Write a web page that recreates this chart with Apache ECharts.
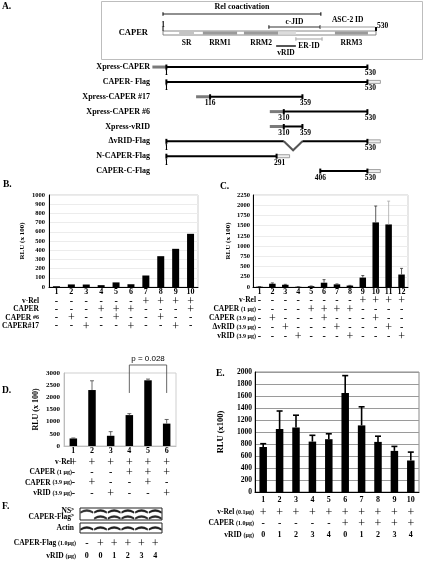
<!DOCTYPE html>
<html><head><meta charset="utf-8">
<script src="https://cdn.jsdelivr.net/npm/echarts@6/dist/echarts.min.js"></script>
<style>html,body{margin:0;padding:0;background:#fff}#c{width:424px;height:571px}</style>
</head><body><div id="c"></div>
<script>
// ---------------- DATA ----------------
// Panel A : CAPER protein map (amino-acid positions)
const caperLength = [1, 530];
const domainNames = ['SR', 'RRM1', 'RRM2', '', 'RRM3'];
const domainStart = [41, 100, 202, 287, 428];
const domainEnd   = [78, 185, 287, 331, 510];
const regionNames = ['Rel coactivation', 'c-JID', 'ASC-2 ID', 'ER-ID', 'vRID'];
const regionStart = [1, 264, 391, 331, 282];
const regionEnd   = [393, 391, 528, 396, 331];
const constructNames = ['Xpress-CAPER', 'CAPER- Flag', 'Xpress-CAPER #17', 'Xpress-CAPER #6', 'Xpress-vRID', 'ΔvRID-Flag', 'N-CAPER-Flag', 'CAPER-C-Flag'];
const constructStart = [1, 1, 116, 310, 310, 1, 1, 406];
const constructEnd   = [530, 530, 359, 530, 359, 530, 291, 530];
const constructTag   = ['xpress', 'flag', 'xpress', 'xpress', 'xpress', 'flag', 'flag', 'flag'];
const constructDeletion = [null, null, null, null, null, [310, 359], null, null];

// Panel B
const bCats = ['1','2','3','4','5','6','7','8','9','10'];
const bValues = [8, 28, 27, 20, 50, 30, 125, 335, 415, 578];
const bRows = ['v-Rel', 'CAPER', 'CAPER {s|#6}', 'CAPER#17'];
const bSigns = [
  ['-','-','-','-','-','-','+','+','+','+'],
  ['-','-','-','+','+','+','-','-','-','+'],
  ['-','+','-','-','+','-','-','+','-','-'],
  ['-','-','+','-','-','+','-','-','+','-']];

// Panel C
const cCats = ['1','2','3','4','5','6','7','8','9','10','11','12'];
const cValues = [8, 80, 55, 5, 20, 105, 65, 35, 230, 1580, 1530, 305];
const cErrors = [3, 20, 10, 2, 5, 75, 10, 5, 50, 400, 570, 150];
const cRows = ['v-Rel', 'CAPER {s|(1 μg)}', 'CAPER {s|(3.9 μg)}', 'ΔvRID {s|(3.9 μg)}', 'vRID {s|(3.9 μg)}'];
const cSigns = [
  ['-','-','-','-','-','-','-','-','+','+','+','+'],
  ['-','-','-','-','+','+','+','+','-','-','-','-'],
  ['-','+','-','-','-','+','-','-','-','+','-','-'],
  ['-','-','+','-','-','-','+','-','-','-','+','-'],
  ['-','-','-','+','-','-','-','+','-','-','-','+']];

// Panel D
const dCats = ['1','2','3','4','5','6'];
const dValues = [310, 2300, 420, 1270, 2700, 920];
const dErrors = [20, 380, 170, 60, 50, 170];
const dRows = ['v-Rel', 'CAPER {s|(1 μg)}', 'CAPER {s|(3.9 μg)}', 'vRID {s|(3.9 μg)}'];
const dSigns = [
  ['+','+','+','+','+','+'],
  ['-','-','-','+','+','+'],
  ['-','+','-','-','+','-'],
  ['-','-','+','-','-','+']];
const dCompare = ['4', '6'];
const dPText = 'p = 0.028';

// Panel E
const eCats = ['1','2','3','4','5','6','7','8','9','10'];
const eValues = [750, 1050, 1075, 840, 880, 1650, 1110, 835, 685, 525];
const eErrors = [55, 300, 205, 105, 90, 290, 310, 95, 75, 140];
const eRows = ['v-Rel {s|(0.1μg)}', 'CAPER {s|(1.0μg)}', 'vRID {s|(μg)}'];
const eSigns = [
  ['+','+','+','+','+','+','+','+','+','+'],
  ['-','-','-','-','-','+','+','+','+','+'],
  ['0','1','2','3','4','0','1','2','3','4']];

// Panel F (western blot)
const fLanes = ['1','2','3','4','5','6'];
const fBlot1Rows = ['NS', 'CAPER-Flag'];
const fNSBand    = [0.8, 0.9, 0.9, 0.9, 0.9, 0.9];
const fFlagBand  = [0, 0.85, 0.85, 0.85, 0.85, 0.85];
const fActinBand = [0.9, 0.9, 0.9, 0.9, 0.9, 0.9];
const fRows = ['CAPER-Flag {s|(1.0μg)}', 'vRID {s|(μg)}'];
const fSigns = [
  ['-','+','+','+','+','+'],
  ['0','0','1','2','3','4']];

// ---------------- BUILD ----------------
const SERIF = '"Liberation Serif","DejaVu Serif",serif';
const SANS = '"Liberation Sans","DejaVu Sans",sans-serif';
const option = {animation:false, backgroundColor:'#fff', grid:[], xAxis:[], yAxis:[], series:[], graphic:[]};
function addGrid(g){ g.outerBoundsMode='none'; g.containLabel=false; option.grid.push(g); return option.grid.length-1; }
function addX(a){ a.nameMoveOverlap=false; option.xAxis.push(a); return option.xAxis.length-1; }
function addY(a){ a.nameMoveOverlap=false; option.yAxis.push(a); return option.yAxis.length-1; }
function font(sz, w){ return (w||'bold')+' '+sz+'px '+SERIF; }

// Sign / row-label table drawn under a grid, columns aligned to the category axis
function tableSeries(xi, yi, rows, signs, o){
  const items = [];
  signs.forEach((row, r)=>row.forEach((v, c)=>items.push({c:c, r:r, v:v})));
  rows.forEach((n, r)=>items.push({c:-1, r:r, v:n}));
  option.series.push({type:'custom', xAxisIndex:xi, yAxisIndex:yi, silent:true, clip:false, z:6,
    data:items.map(it=>[Math.max(it.c,0), it.r]), encode:{x:0},
    renderItem:(params, api)=>{
      const it = items[params.dataIndex];
      const y = o.base + o.offset0 + it.r*o.step;
      if(it.c < 0){
        const x0 = api.coord([0, o.yRef])[0] - api.size([1, 0])[0]/2 - o.nameGap;
        return {type:'text', x:x0, y:y, style:{text:it.v, font:font(o.nameSize), fill:'#000', align:'right', verticalAlign:'middle',
          rich:{s:{font:font(o.nameSize-1.5), fill:'#000', verticalAlign:'middle'}}}};
      }
      const x = api.coord([it.c, o.yRef])[0];
      let f, dy = 0;
      if(it.v === '+'){ f = 'normal 12px '+SERIF; dy = 0.5; }
      else if(it.v === '-'){ f = 'bold 10px '+SERIF; }
      else { f = font(8); }
      return {type:'text', x:x, y:y+dy, style:{text:it.v, font:f, fill:'#000', align:'center', verticalAlign:'middle'}};
    }});
}

function barPanel(p){
  const gi = addGrid({left:p.left, top:p.top, width:p.width, height:p.height, show:true, borderColor:p.border, borderWidth:1});
  const xi = addX({gridIndex:gi, type:'category', data:p.cats, position:'bottom',
    axisLine:{show:true, onZero:false, lineStyle:{color:p.axisColor, width:1}}, axisTick:{show:false},
    axisLabel:{interval:0, margin:p.catMargin, verticalAlign:'middle', fontFamily:SERIF, fontWeight:'bold', fontSize:p.catSize, color:'#000'}});
  const yi = addY({gridIndex:gi, type:'value', min:0, max:p.max, interval:p.interval,
    axisLine:{show:true, lineStyle:{color:p.axisColor, width:1}}, axisTick:{show:false},
    axisLabel:{margin:p.tickMargin, formatter:(v)=>String(v), fontFamily:SERIF, fontWeight:'bold', fontSize:p.tickSize, color:'#000'},
    splitLine:{show:!!p.split, lineStyle:{color:p.split||'#ddd', width:1}},
    name:p.yName, nameLocation:'middle', nameGap:p.yNameGap,
    nameTextStyle:{fontFamily:SERIF, fontWeight:'bold', fontSize:p.yNameSize, color:'#000'}});
  option.series.push({type:'bar', xAxisIndex:xi, yAxisIndex:yi, data:p.values, barWidth:p.barWidth,
    itemStyle:{color:'#000'}, silent:true, z:2});
  if(p.errors){
    option.series.push({type:'custom', xAxisIndex:xi, yAxisIndex:yi, z:3, silent:true,
      data:p.values.map((v,i)=>[i, v, p.errors[i]]), encode:{x:0, y:1},
      renderItem:(params, api)=>{
        const i = api.value(0);
        const b = api.coord([i, api.value(1)]);
        const t = api.coord([i, api.value(1)+api.value(2)]);
        const col = (p.errColors && p.errColors[i]) || p.errColor;
        const st = {stroke:col, lineWidth:p.errWidth};
        return {type:'group', children:[
          {type:'line', shape:{x1:b[0], y1:b[1], x2:b[0], y2:t[1]}, style:st},
          {type:'line', shape:{x1:b[0]-p.cap/2, y1:t[1], x2:b[0]+p.cap/2, y2:t[1]}, style:st}]};
      }});
  }
  tableSeries(xi, yi, p.rows, p.signs, {base:p.top+p.height, offset0:p.rowOffset0, step:p.rowStep, nameGap:p.rowNameGap, nameSize:p.rowSize, yRef:0});
  return {gi, xi, yi};
}

// ---- Panel A: box map ----
const gA0 = addGrid({left:163, top:0, width:213, height:60});
const xA0 = addX({gridIndex:gA0, type:'value', min:1, max:530, show:false});
const yA0 = addY({gridIndex:gA0, type:'value', min:0, max:60, inverse:true, show:false});
const BAR_Y = 33;
option.series.push({type:'custom', xAxisIndex:xA0, yAxisIndex:yA0, silent:true, z:2,
  data:[[caperLength[0], caperLength[1]]], encode:{x:[0,1]},
  renderItem:(params, api)=>{
    const a = api.coord([api.value(0), BAR_Y]), b = api.coord([api.value(1), BAR_Y]);
    return {type:'group', children:[
      {type:'rect', shape:{x:a[0], y:a[1]-2, width:b[0]-a[0], height:4}, style:{fill:'#fff', stroke:'#6a6a6a', lineWidth:0.8}},
      {type:'line', shape:{x1:a[0], y1:a[1]-6, x2:a[0], y2:a[1]-2}, style:{stroke:'#000', lineWidth:1}},
      {type:'rect', shape:{x:b[0]-1, y:b[1]-6, width:2, height:4}, style:{fill:'#000'}},
      {type:'text', x:a[0], y:a[1]-8, style:{text:String(caperLength[0]), font:font(7.5), fill:'#000', align:'center', verticalAlign:'middle'}},
      {type:'text', x:b[0]+1, y:b[1]-7, style:{text:String(caperLength[1]), font:font(7.5), fill:'#000', align:'left', verticalAlign:'middle'}}
    ]};
  }});
const domainFill = {'SR':'#c4c4c4', 'RRM1':'#9a9a9a', 'RRM2':'#9a9a9a', '':'#dcdcdc', 'RRM3':'#9a9a9a'};
option.series.push({type:'custom', xAxisIndex:xA0, yAxisIndex:yA0, silent:true, z:3,
  data:domainNames.map((n,i)=>[domainStart[i], domainEnd[i], i]), encode:{x:[0,1]},
  renderItem:(params, api)=>{
    const i = api.value(2);
    const a = api.coord([api.value(0), BAR_Y]), b = api.coord([api.value(1), BAR_Y]);
    const ch = [{type:'rect', shape:{x:a[0], y:a[1]-1.6, width:b[0]-a[0], height:3.2}, style:{fill:domainFill[domainNames[i]]}}];
    if(domainNames[i]) ch.push({type:'text', x:(a[0]+b[0])/2, y:a[1]+10, style:{text:domainNames[i], font:font(7.5), fill:'#000', align:'center', verticalAlign:'middle'}});
    return {type:'group', children:ch};
  }});
const regionStyle = {
  'Rel coactivation':{y:14, color:'#222', w:1.2, ly:7, lsz:8, ticks:true},
  'c-JID':{y:27, color:'#333', w:1.2, ly:22, lsz:7.5, ticks:true},
  'ASC-2 ID':{y:27, color:'#9a9a9a', w:1.2, ly:20, lsz:7.5, ticks:false},
  'ER-ID':{y:39, color:'#b0b0b0', w:1.2, ly:46, lsz:7.5, ticks:true},
  'vRID':{y:46, color:'#555', w:2, ly:53, lsz:7.5, ticks:false}};
option.series.push({type:'custom', xAxisIndex:xA0, yAxisIndex:yA0, silent:true, z:4,
  data:regionNames.map((n,i)=>[regionStart[i], regionEnd[i], i]), encode:{x:[0,1]},
  renderItem:(params, api)=>{
    const n = regionNames[api.value(2)], s = regionStyle[n];
    const a = api.coord([api.value(0), s.y]), b = api.coord([api.value(1), s.y]);
    const ch = [{type:'line', shape:{x1:a[0], y1:a[1], x2:b[0], y2:b[1]}, style:{stroke:s.color, lineWidth:s.w}}];
    if(s.ticks){
      ch.push({type:'line', shape:{x1:a[0], y1:a[1]-1.8, x2:a[0], y2:a[1]+1.8}, style:{stroke:s.color, lineWidth:1.2}});
      ch.push({type:'line', shape:{x1:b[0], y1:b[1]-1.8, x2:b[0], y2:b[1]+1.8}, style:{stroke:s.color, lineWidth:1.2}});
    }
    const ly = api.coord([api.value(0), s.ly])[1];
    ch.push({type:'text', x:(a[0]+b[0])/2, y:ly, style:{text:n, font:font(s.lsz), fill:'#000', align:'center', verticalAlign:'middle'}});
    return {type:'group', children:ch};
  }});

// ---- Panel A: constructs ----
const gA1 = addGrid({left:166, top:59.6, width:201.4, height:118.9});
const xA1 = addX({gridIndex:gA1, type:'value', min:0, max:530, show:false});
const yA1 = addY({gridIndex:gA1, type:'category', data:constructNames, inverse:true,
  axisLine:{show:false}, axisTick:{show:false}, splitLine:{show:false},
  axisLabel:{margin:16, interval:0, fontFamily:SERIF, fontWeight:'bold', fontSize:8, color:'#000'}});
option.series.push({type:'custom', xAxisIndex:xA1, yAxisIndex:yA1, silent:true, z:3,
  data:constructNames.map((n,i)=>[i, constructStart[i], constructEnd[i]]), encode:{x:[1,2], y:0},
  renderItem:(params, api)=>{
    const i = api.value(0), s = api.value(1), e = api.value(2);
    const ps = api.coord([s, i]), pe = api.coord([e, i]);
    const y = ps[1], x1 = ps[0], x2 = pe[0];
    const ch = [];
    const blk = {stroke:'#000', lineWidth:2};
    if(constructTag[i]==='xpress') ch.push({type:'rect', shape:{x:x1-14, y:y-1.5, width:14, height:3}, style:{fill:'#7a7a7a'}});
    if(constructTag[i]==='flag') ch.push({type:'rect', shape:{x:x2, y:y-1.5, width:13, height:3}, style:{fill:'#f0f0f0', stroke:'#8a8a8a', lineWidth:0.8}});
    const del = constructDeletion[i];
    if(del){
      const d1 = api.coord([del[0], i])[0], d2 = api.coord([del[1], i])[0];
      ch.push({type:'line', shape:{x1:x1, y1:y, x2:d1, y2:y}, style:blk});
      ch.push({type:'polyline', shape:{points:[[d1,y],[(d1+d2)/2, y+9],[d2,y]]}, style:{stroke:'#555', lineWidth:2, fill:null}});
      ch.push({type:'line', shape:{x1:d2, y1:y, x2:x2, y2:y}, style:blk});
    } else {
      ch.push({type:'line', shape:{x1:x1, y1:y, x2:x2, y2:y}, style:blk});
    }
    ch.push({type:'rect', shape:{x:x1-1, y:y-2.5, width:2, height:5}, style:{fill:'#000'}});
    ch.push({type:'rect', shape:{x:x2-1, y:y-2.5, width:2, height:5}, style:{fill:'#000'}});
    ch.push({type:'text', x:x1, y:y+6.5, style:{text:String(s), font:font(7.5), fill:'#000', align:'center', verticalAlign:'middle'}});
    ch.push({type:'text', x:x2+3, y:y+6.5, style:{text:String(e), font:font(7.5), fill:'#000', align:'center', verticalAlign:'middle'}});
    return {type:'group', children:ch};
  }});

// ---- Panel B ----
barPanel({left:49, top:195, width:149, height:92, border:'#cfcfcf', axisColor:'#000',
  cats:bCats, values:bValues, max:1000, interval:100, split:'#ececec',
  tickSize:6.5, tickMargin:4, catSize:8, catMargin:5, yName:'RLU (x 100)', yNameGap:23, yNameSize:7,
  rows:bRows, signs:bSigns, rowOffset0:14, rowStep:8.3, rowNameGap:10, rowSize:7.5, barWidth:7});

// ---- Panel C ----
barPanel({left:253, top:195, width:155, height:92, border:'#cfcfcf', axisColor:'#000',
  cats:cCats, values:cValues, errors:cErrors, errColor:'#333', errColors:{10:'#aaaaaa'}, errWidth:0.8, cap:3,
  max:2250, interval:250, split:'#ececec',
  tickSize:6.5, tickMargin:3, catSize:8, catMargin:5, yName:'RLU (x 100)', yNameGap:21, yNameSize:7,
  rows:cRows, signs:cSigns, rowOffset0:13, rowStep:9, rowNameGap:-3, rowSize:7.5, barWidth:6.5});

// ---- Panel D ----
const dp = barPanel({left:64, top:373, width:112, height:73, border:'#cfcfcf', axisColor:'#bdbdbd',
  cats:dCats, values:dValues, errors:dErrors, errColor:'#444', errWidth:0.8, cap:4,
  max:3000, interval:500, split:null,
  tickSize:7, tickMargin:4, catSize:8, catMargin:5, yName:'RLU (x 100)', yNameGap:24, yNameSize:8,
  rows:dRows, signs:dSigns, rowOffset0:16, rowStep:10.4, rowNameGap:-8, rowSize:7.5, barWidth:7.5});
const BRACKET_TOP = 3330, BRACKET_BOTTOM = 2180;
option.series.push({type:'custom', xAxisIndex:dp.xi, yAxisIndex:dp.yi, silent:true, z:5, clip:false,
  data:[[dCats.indexOf(dCompare[0]), dCats.indexOf(dCompare[1])]], encode:{x:[0,1]},
  renderItem:(params, api)=>{
    const a = api.coord([api.value(0), BRACKET_TOP]), b = api.coord([api.value(1), BRACKET_TOP]);
    const yb = api.coord([api.value(0), BRACKET_BOTTOM])[1];
    const st = {stroke:'#555', lineWidth:0.9, fill:null};
    return {type:'group', children:[
      {type:'polyline', shape:{points:[[a[0], yb],[a[0], a[1]],[b[0], b[1]],[b[0], yb]]}, style:st},
      {type:'text', x:(a[0]+b[0])/2, y:a[1]-6, style:{text:dPText, font:'8px '+SANS, fill:'#000', align:'center', verticalAlign:'middle'}}]};
  }});

// ---- Panel E ----
barPanel({left:255, top:372, width:164, height:120, border:'#8a8a8a', axisColor:'#000',
  cats:eCats, values:eValues, errors:eErrors, errColor:'#000', errWidth:1.6, cap:6,
  max:2000, interval:200, split:'#9a9a9a',
  tickSize:7.5, tickMargin:3, catSize:8, catMargin:8, yName:'RLU (x100)', yNameGap:30, yNameSize:8.5,
  rows:eRows, signs:eSigns, rowOffset0:20, rowStep:11.5, rowNameGap:1, rowSize:7.5, barWidth:7.5});

// ---- Panel F ----
function blotGrid(top, height, rows){
  const gi = addGrid({left:80, top:top, width:82, height:height, show:true, borderColor:'#222', borderWidth:1});
  const xi = addX({gridIndex:gi, type:'category', data:fLanes, show:false});
  const yi = addY({gridIndex:gi, type:'category', data:rows, inverse:true,
    axisLine:{show:false}, axisTick:{show:false}, splitLine:{show:false},
    axisLabel:{margin:6, interval:0, fontFamily:SERIF, fontWeight:'bold', fontSize:7.5, color:'#000',
      formatter:(v)=> v==='Actin' ? v : v+'{a|>}', rich:{a:{fontFamily:SANS, fontSize:5, color:'#000', verticalAlign:'top'}}}});
  return {gi, xi, yi};
}
const f1 = blotGrid(508, 12, fBlot1Rows);
const f2 = blotGrid(523, 10, ['Actin']);
function bandSeries(g, row, values, dy){
  option.series.push({type:'custom', xAxisIndex:g.xi, yAxisIndex:g.yi, silent:true, z:3,
    data:values.map((v,i)=>[i, row, v]), encode:{x:0, y:1},
    renderItem:(params, api)=>{
      const v = api.value(2);
      if(!v) return null;
      const c = api.coord([api.value(0), api.value(1)]);
      const w = api.size([1, 0])[0]*0.9;
      const x0 = c[0]-w/2, x1 = c[0]+w/2, y = c[1]+dy;
      return {type:'path', shape:{pathData:'M'+x0+' '+(y+0.6)+' Q'+c[0]+' '+(y-3.4)+' '+x1+' '+(y+0.6)+' L'+x1+' '+(y+2.2)+' Q'+c[0]+' '+(y-1.4)+' '+x0+' '+(y+2.2)+' Z'},
        style:{fill:'rgba(10,10,10,'+v+')', stroke:'rgba(10,10,10,'+(v*0.7)+')', lineWidth:0.6}};
    }});
}
bandSeries(f1, 0, fNSBand, 0);
bandSeries(f1, 1, fFlagBand, 0);
bandSeries(f2, 0, fActinBand, 0);
tableSeries(f2.xi, f2.yi, fRows, fSigns, {base:533, offset0:10, step:13, nameGap:4, nameSize:7.5, yRef:0});

// ---- Graphic decorations (frame, panel letters) ----
option.graphic = [
  {type:'rect', shape:{x:101.5, y:1.5, width:321, height:58}, style:{fill:'none', stroke:'#bdbdbd', lineWidth:1}, silent:true},
  {type:'text', x:148, y:33, style:{text:'CAPER', font:font(8.5), fill:'#000', align:'right', verticalAlign:'middle'}},
  {type:'text', x:2, y:7, style:{text:'A.', font:font(9.5), fill:'#000', verticalAlign:'middle'}},
  {type:'text', x:3, y:185, style:{text:'B.', font:font(9.5), fill:'#000', verticalAlign:'middle'}},
  {type:'text', x:220, y:187, style:{text:'C.', font:font(9.5), fill:'#000', verticalAlign:'middle'}},
  {type:'text', x:2, y:391, style:{text:'D.', font:font(9.5), fill:'#000', verticalAlign:'middle'}},
  {type:'text', x:216, y:374, style:{text:'E.', font:font(9.5), fill:'#000', verticalAlign:'middle'}},
  {type:'text', x:2, y:507, style:{text:'F.', font:font(9.5), fill:'#000', verticalAlign:'middle'}}
];

const chart = echarts.init(document.getElementById('c'), null, {renderer:'canvas', width:424, height:571});
chart.setOption(option);
</script></body></html>
